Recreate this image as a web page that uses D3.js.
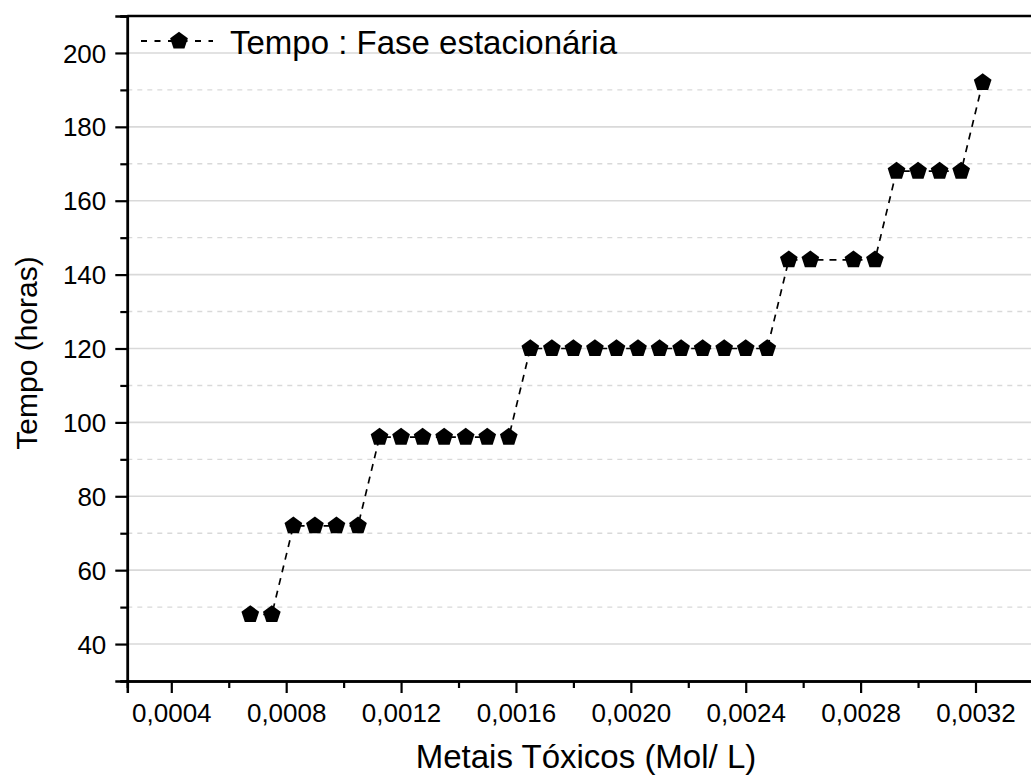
<!DOCTYPE html>
<html>
<head>
<meta charset="utf-8">
<script src="https://cdn.jsdelivr.net/npm/d3@7"></script>
<style>
  html, body { margin: 0; padding: 0; background: #fff; }
  svg { display: block; font-family: "Liberation Sans", Arial, sans-serif; }
</style>
</head>
<body>
<svg id="chart" width="1031" height="782"></svg>
<script>
// Metal concentration (mol/L) and time to reach the stationary phase (hours)
const concentrations = [
  0.000675, 0.00075,
  0.000825, 0.0009, 0.000975, 0.00105,
  0.001125, 0.0012, 0.001275, 0.00135, 0.001425, 0.0015, 0.001575,
  0.00165, 0.001725, 0.0018, 0.001875, 0.00195, 0.002025, 0.0021,
  0.002175, 0.00225, 0.002325, 0.0024, 0.002475,
  0.00255, 0.002625, 0.002775, 0.00285,
  0.002925, 0.003, 0.003075, 0.00315,
  0.003225
];
const hours = [
  48, 48,
  72, 72, 72, 72,
  96, 96, 96, 96, 96, 96, 96,
  120, 120, 120, 120, 120, 120, 120, 120, 120, 120, 120, 120,
  144, 144, 144, 144,
  168, 168, 168, 168,
  192
];
const xTicks = [0.0004, 0.0008, 0.0012, 0.0016, 0.0020, 0.0024, 0.0028, 0.0032];
const xMinorTicks = [0.0006, 0.0010, 0.0014, 0.0018, 0.0022, 0.0026, 0.0030, 0.0034];
const yTicks = [40, 60, 80, 100, 120, 140, 160, 180, 200];
const yMinorTicks = [30, 50, 70, 90, 110, 130, 150, 170, 190, 210];
const seriesName = "Tempo : Fase estacionária";
const xTitle = "Metais Tóxicos (Mol/ L)";
const yTitle = "Tempo (horas)";

const FONT = "'Liberation Sans', Arial, sans-serif";
const svg = d3.select("#chart");
const plotLeft = 127.3, plotTop = 16, plotBottom = 681;

const x = d3.scaleLinear().domain([0.0004, 0.0032]).range([171.3, 975.5]);
const xMin = x.invert(plotLeft);
const plotRight = x(0.0034);
x.domain([xMin, 0.0034]).range([plotLeft, plotRight]);
const y = d3.scaleLinear().domain([30, 210]).range([plotBottom, plotTop]);

const fmtX = v => d3.format(".4f")(v).replace(".", ",");

svg.append("rect").attr("width", 1031).attr("height", 782).attr("fill", "#fff");

// grid
const grid = svg.append("g");
grid.selectAll("line.major").data(yTicks).join("line")
  .attr("class", "major")
  .attr("x1", plotLeft).attr("x2", plotRight)
  .attr("y1", d => y(d)).attr("y2", d => y(d))
  .attr("stroke", "#d9d9d9").attr("stroke-width", 1.6);
grid.selectAll("line.minor").data(yMinorTicks.filter(d => d > 30 && d < 210)).join("line")
  .attr("class", "minor")
  .attr("x1", plotLeft).attr("x2", plotRight)
  .attr("y1", d => y(d)).attr("y2", d => y(d))
  .attr("stroke", "#d9d9d9").attr("stroke-width", 1.4)
  .attr("stroke-dasharray", "5,5");

// axes
const xAxis = svg.append("g").attr("transform", `translate(0,${plotBottom})`)
  .call(d3.axisBottom(x).tickValues(xTicks).tickFormat(fmtX).tickSize(12).tickPadding(8));
const xAxisMinor = svg.append("g").attr("transform", `translate(0,${plotBottom})`)
  .call(d3.axisBottom(x).tickValues(xMinorTicks).tickFormat("").tickSize(7));
const yAxis = svg.append("g").attr("transform", `translate(${plotLeft},0)`)
  .call(d3.axisLeft(y).tickValues(yTicks).tickSize(12).tickPadding(9));
const yAxisMinor = svg.append("g").attr("transform", `translate(${plotLeft},0)`)
  .call(d3.axisLeft(y).tickValues(yMinorTicks).tickFormat("").tickSize(7));

[xAxis, xAxisMinor, yAxis, yAxisMinor].forEach(g => {
  g.attr("font-family", null).attr("font-size", null);
  g.select(".domain").attr("stroke", "#000").attr("stroke-width", 2.5);
  g.selectAll(".tick line").attr("stroke", "#000").attr("stroke-width", 2.2);
  g.selectAll(".tick text").attr("fill", "#000").style("font-size", "26px")
    .style("font-family", FONT);
});
yAxis.selectAll(".tick text").attr("dy", "0.35em");
xAxis.selectAll(".tick text").attr("dy", "0.8em");

// top frame line
svg.append("line")
  .attr("x1", plotLeft).attr("x2", plotRight)
  .attr("y1", plotTop).attr("y2", plotTop)
  .attr("stroke", "#000").attr("stroke-width", 2.5);

// series line
const pts = concentrations.map((c, i) => [c, hours[i]]);
svg.append("path")
  .datum(pts)
  .attr("fill", "none")
  .attr("stroke", "#000")
  .attr("stroke-width", 1.7)
  .attr("stroke-dasharray", "7,6")
  .attr("d", d3.line().x(d => x(d[0])).y(d => y(d[1])));

// pentagon markers
const R = 9.3;
const pentagon = d3.line()(d3.range(5).map(k => {
  const a = -Math.PI / 2 + k * 2 * Math.PI / 5;
  return [R * Math.cos(a), R * Math.sin(a)];
})) + "Z";

svg.append("g").selectAll("path").data(pts).join("path")
  .attr("d", pentagon)
  .attr("transform", d => `translate(${x(d[0])},${y(d[1])})`)
  .attr("fill", "#000");

// legend
const leg = svg.append("g");
leg.append("line")
  .attr("x1", 141).attr("x2", 213).attr("y1", 41).attr("y2", 41)
  .attr("stroke", "#000").attr("stroke-width", 1.8)
  .attr("stroke-dasharray", "6,7.5");
leg.append("path").attr("d", pentagon)
  .attr("transform", "translate(179,41)").attr("fill", "#000");
leg.append("text")
  .attr("x", 230).attr("y", 54)
  .style("font-size", "33px").style("font-family", FONT).attr("fill", "#000")
  .text(seriesName);

// axis titles
svg.append("text")
  .attr("x", 586).attr("y", 768)
  .attr("text-anchor", "middle")
  .style("font-size", "33px").style("font-family", FONT).attr("fill", "#000")
  .text(xTitle);
svg.append("text")
  .attr("transform", "translate(37,353) rotate(-90)")
  .attr("text-anchor", "middle")
  .style("font-size", "30px").style("font-family", FONT).attr("fill", "#000")
  .text(yTitle);
</script>
</body>
</html>
